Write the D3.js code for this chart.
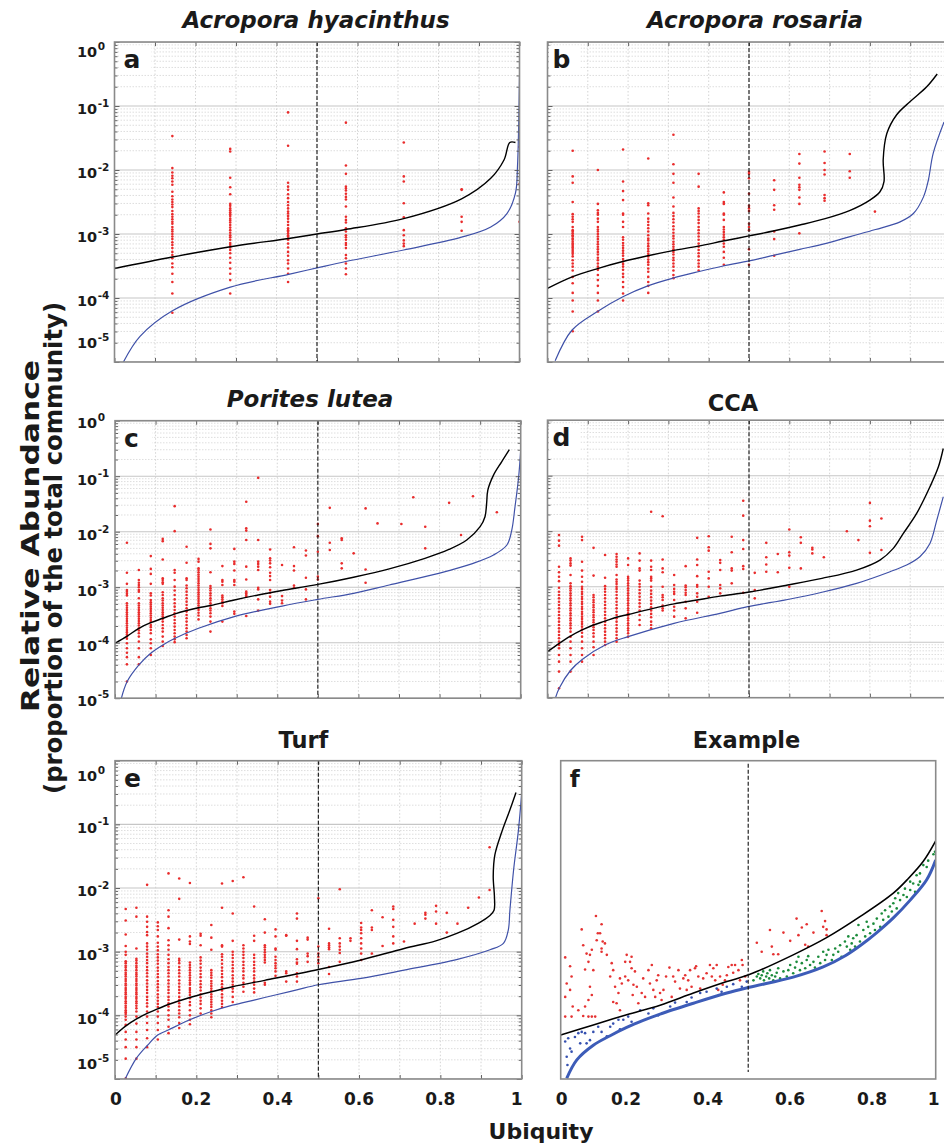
<!DOCTYPE html>
<html><head><meta charset="utf-8">
<script src="https://cdn.jsdelivr.net/npm/d3@7"></script>
<style>body{margin:0;background:#fff}svg{display:block}text{font-family:"DejaVu Sans",sans-serif;font-weight:bold;fill:#1a1a1a}</style>
</head><body><svg id="chart" width="944" height="1144"></svg>
<script>
// ---------- tick values ----------
const xTicks = [0,0.1,0.2,0.3,0.4,0.5,0.6,0.7,0.8,0.9,1];
const xLabelTicks = [0,0.2,0.4,0.6,0.8,1];
const decadeExps = [0,-1,-2,-3,-4,-5];

// ---------- panel a: Acropora hyacinthus (7 sites) ; dots = [occupied sites, log10 relative abundance] ----------
const aSites = 7;
const aDots = [
 [1,[-1.47,-1.97,-2.04,-2.09,-2.13,-2.18,-2.23,-2.34,-2.41,-2.46,-2.5,-2.54,-2.58,-2.64,-2.69,-2.73,-2.77,-2.81,-2.84,-2.89,-2.93,-2.96,-3,-3.04,-3.08,-3.13,-3.17,-3.22,-3.28,-3.33,-3.38,-3.46,-3.52,-3.62,-3.75,-3.93,-4.23]],
 [2,[-1.67,-1.71,-2.12,-2.27,-2.38,-2.53,-2.56,-2.6,-2.63,-2.66,-2.69,-2.72,-2.76,-2.79,-2.82,-2.86,-2.9,-2.94,-2.98,-3.02,-3.05,-3.09,-3.14,-3.17,-3.21,-3.25,-3.3,-3.37,-3.45,-3.54,-3.62,-3.72,-3.93]],
 [3,[-1.1,-1.62,-2.2,-2.26,-2.31,-2.38,-2.44,-2.5,-2.55,-2.6,-2.65,-2.68,-2.72,-2.76,-2.81,-2.86,-2.91,-2.94,-2.96,-2.99,-3.02,-3.04,-3.07,-3.09,-3.15,-3.21,-3.28,-3.34,-3.41,-3.46,-3.54,-3.62,-3.75]],
 [4,[-1.26,-1.93,-2.06,-2.26,-2.29,-2.32,-2.37,-2.42,-2.46,-2.57,-2.73,-2.78,-2.82,-2.91,-2.96,-3.02,-3.05,-3.09,-3.14,-3.17,-3.22,-3.33,-3.38,-3.46,-3.54,-3.63]],
 [5,[-1.57,-2.1,-2.18,-2.52,-2.74,-2.94,-3.02,-3.1,-3.15,-3.19]],
 [6,[-2.3,-2.31,-2.73,-2.81,-2.95]],
 [7,[-1.64,-2.22,-2.81]]
];
const aBlack = [[0,-3.54],[0.143,-3.36],[0.286,-3.2],[0.43,-3.07],[0.5,-3.0],[0.571,-2.93],[0.714,-2.76],[0.857,-2.45],[0.929,-2.13],[0.962,-1.84],[0.976,-1.57],[0.99,-1.57]];
const aBlue = [[0.022,-5],[0.063,-4.6],[0.143,-4.2],[0.286,-3.83],[0.43,-3.63],[0.5,-3.53],[0.571,-3.43],[0.714,-3.25],[0.857,-3.05],[0.929,-2.89],[0.969,-2.68],[0.99,-2.36],[0.995,-1.95],[1,-0.54]];

// ---------- panel b: Acropora rosaria (16 sites) ----------
const bSites = 16;
const bDots = [
 [1,[-1.7,-2.1,-2.2,-2.5,-2.69,-2.73,-2.77,-2.81,-2.89,-2.94,-2.96,-2.99,-3.02,-3.04,-3.07,-3.09,-3.12,-3.15,-3.17,-3.2,-3.22,-3.25,-3.28,-3.31,-3.35,-3.41,-3.46,-3.51,-3.57,-3.67,-3.77,-3.92,-4.04,-4.21,-4.52]],
 [2,[-2,-2.53,-2.63,-2.67,-2.7,-2.76,-2.81,-2.89,-2.93,-2.96,-3,-3.04,-3.08,-3.12,-3.16,-3.2,-3.24,-3.28,-3.32,-3.37,-3.41,-3.46,-3.51,-3.56,-3.64,-3.72,-3.81,-3.92,-4.04,-4.21]],
 [3,[-1.68,-2.18,-2.33,-2.47,-2.68,-2.7,-2.81,-2.89,-3.05,-3.09,-3.14,-3.18,-3.22,-3.26,-3.3,-3.34,-3.39,-3.43,-3.47,-3.51,-3.56,-3.62,-3.67,-3.75,-3.83,-3.93,-4.04]],
 [4,[-1.82,-2.52,-2.55,-2.68,-2.76,-2.81,-2.86,-2.91,-2.96,-3.02,-3.07,-3.1,-3.15,-3.19,-3.23,-3.27,-3.31,-3.35,-3.4,-3.44,-3.48,-3.54,-3.59,-3.67,-3.75,-3.81,-3.92]],
 [5,[-1.45,-1.91,-2.06,-2.2,-2.43,-2.57,-2.67,-2.72,-2.77,-2.82,-2.88,-2.93,-2.98,-3.03,-3.07,-3.12,-3.16,-3.2,-3.24,-3.28,-3.32,-3.37,-3.41,-3.46,-3.51,-3.57,-3.64,-3.69]],
 [6,[-2.06,-2.26,-2.6,-2.64,-2.68,-2.73,-2.78,-2.83,-2.89,-2.94,-2.99,-3.04,-3.09,-3.15,-3.2,-3.25,-3.3,-3.35,-3.41,-3.46,-3.51,-3.57]],
 [7,[-2.35,-2.5,-2.53,-2.68,-2.7,-2.78,-2.89,-2.93,-2.97,-3.01,-3.05,-3.09,-3.15,-3.2,-3.28,-3.37,-3.48]],
 [8,[-2.03,-2.06,-2.13,-2.37,-2.56,-2.6,-2.64,-2.84,-2.89,-2.94,-3.24,-3.48]],
 [9,[-2.16,-2.31,-2.55,-2.62,-2.96,-3.08,-3.34]],
 [10,[-1.75,-1.9,-2.12,-2.23,-2.27,-2.31,-2.43,-2.53,-2.99]],
 [11,[-1.71,-1.89,-2,-2.07,-2.39,-2.44,-2.48]],
 [12,[-1.75,-2.02,-2.12]],
 [13,[-2.65]]
];
const bBlack = [[0,-3.85],[0.061,-3.67],[0.124,-3.54],[0.187,-3.43],[0.249,-3.34],[0.311,-3.26],[0.374,-3.19],[0.436,-3.11],[0.5,-3.03],[0.563,-2.95],[0.626,-2.86],[0.689,-2.76],[0.751,-2.63],[0.8,-2.47],[0.825,-2.34],[0.835,-2.18],[0.833,-1.84],[0.842,-1.43],[0.866,-1.14],[0.9,-0.93],[0.941,-0.7],[0.967,-0.5]];
const bBlue = [[0.019,-4.98],[0.061,-4.5],[0.124,-4.21],[0.187,-3.98],[0.249,-3.81],[0.311,-3.69],[0.374,-3.59],[0.436,-3.5],[0.5,-3.42],[0.563,-3.33],[0.626,-3.24],[0.689,-3.15],[0.751,-3.04],[0.814,-2.93],[0.875,-2.81],[0.908,-2.68],[0.933,-2.42],[0.945,-2.16],[0.957,-1.74],[0.984,-1.25]];

// ---------- panel c: Porites lutea (34 sites) ----------
const cSites = 34;
const cDots = [
 [1,[-2.2,-2.74,-2.94,-3.05,-3.08,-3.12,-3.15,-3.29,-3.33,-3.37,-3.41,-3.45,-3.49,-3.53,-3.57,-3.61,-3.65,-3.69,-3.73,-3.77,-3.81,-3.85,-3.89,-3.93,-4.01,-4.1,-4.18,-4.26,-4.39,-4.7]],
 [2,[-2.69,-2.87,-2.92,-2.96,-3,-3.05,-3.08,-3.2,-3.29,-3.33,-3.37,-3.41,-3.45,-3.49,-3.53,-3.57,-3.61,-3.65,-3.69,-3.74,-3.78,-3.83,-3.89,-3.98,-4.1,-4.26,-4.39]],
 [3,[-2.44,-2.67,-2.76,-2.94,-3.11,-3.15,-3.23,-3.27,-3.31,-3.35,-3.39,-3.43,-3.47,-3.51,-3.55,-3.59,-3.63,-3.68,-3.72,-3.77,-3.83,-3.94,-4.01,-4.1,-4.22]],
 [4,[-2.13,-2.17,-2.5,-2.84,-2.87,-2.91,-2.94,-3.09,-3.14,-3.2,-3.24,-3.29,-3.33,-3.37,-3.41,-3.45,-3.49,-3.53,-3.57,-3.62,-3.68,-3.74,-3.8,-3.89,-3.98,-4.06]],
 [5,[-1.54,-1.99,-2.69,-2.74,-2.87,-2.99,-3.06,-3.14,-3.22,-3.29,-3.35,-3.41,-3.47,-3.53,-3.59,-3.65,-3.71,-3.77,-3.83,-3.89,-3.94,-3.99]],
 [6,[-2.27,-2.56,-2.84,-2.87,-2.97,-3.02,-3.08,-3.14,-3.2,-3.26,-3.32,-3.38,-3.44,-3.5,-3.56,-3.62,-3.68,-3.74,-3.8,-3.86,-3.92]],
 [7,[-2.49,-2.54,-2.66,-2.69,-2.73,-2.77,-2.81,-2.85,-2.89,-2.93,-2.97,-3.01,-3.05,-3.09,-3.13,-3.17,-3.21,-3.25,-3.29,-3.33,-3.37,-3.41,-3.46,-3.51,-3.58]],
 [8,[-1.96,-2.22,-2.3,-2.73,-2.98,-3.02,-3.06,-3.11,-3.15,-3.2,-3.24,-3.29,-3.33,-3.38,-3.42,-3.47,-3.53,-3.62,-3.8]],
 [9,[-2.62,-2.87,-2.9,-2.96,-3.15,-3.18,-3.22,-3.26,-3.29,-3.34,-3.62]],
 [10,[-2.31,-2.54,-2.58,-2.7,-2.87,-2.9,-2.96,-3.44,-3.48]],
 [11,[-1.46,-1.94,-1.98,-2.15,-2.63,-2.86,-3.08,-3.11,-3.14,-3.17,-3.52]],
 [12,[-1.03,-2.15,-2.54,-2.58,-2.63,-2.69,-3.01,-3.04,-3.22,-3.42]],
 [13,[-2.32,-2.48,-2.52,-2.57,-2.64,-2.74,-2.8,-2.87,-3.05,-3.1,-3.17,-3.26,-3.3]],
 [14,[-2.6,-3.16,-3.24,-3.29]],
 [15,[-2.28,-2.62,-2.7,-2.97,-3.01]],
 [16,[-2.34,-2.43,-2.83,-3.04,-3.22]],
 [17,[-1.86,-2.08,-2.36,-2.81,-2.86]],
 [18,[-1.57,-2.2,-2.33]],
 [19,[-2.12,-2.15,-2.57,-2.66]],
 [20,[-2.39]],
 [21,[-1.58,-2.68,-2.92]],
 [22,[-1.85]],
 [24,[-1.86]],
 [25,[-1.38]],
 [26,[-1.91,-2.3]],
 [28,[-1.48]],
 [29,[-2.06]],
 [30,[-1.36]],
 [32,[-1.65]]
];
const cBlack = [[0,-4.01],[0.03,-3.88],[0.059,-3.74],[0.088,-3.64],[0.118,-3.56],[0.148,-3.48],[0.177,-3.42],[0.206,-3.37],[0.236,-3.33],[0.294,-3.23],[0.353,-3.14],[0.412,-3.06],[0.5,-2.95],[0.588,-2.82],[0.676,-2.67],[0.764,-2.48],[0.823,-2.32],[0.867,-2.15],[0.9,-1.91],[0.912,-1.73],[0.916,-1.49],[0.919,-1.25],[0.933,-0.98],[0.953,-0.74],[0.972,-0.52]];
const cBlue = [[0.015,-5.02],[0.03,-4.7],[0.059,-4.4],[0.088,-4.19],[0.118,-4.04],[0.148,-3.92],[0.206,-3.74],[0.294,-3.53],[0.412,-3.34],[0.5,-3.22],[0.588,-3.11],[0.676,-2.96],[0.764,-2.81],[0.823,-2.7],[0.883,-2.57],[0.933,-2.42],[0.966,-2.24],[0.978,-1.97],[0.986,-1.55],[0.995,-1.01],[1,-0.53]];

// ---------- panel d: CCA (35 sites) ----------
const dSites = 35;
const dDots = [
 [1,[-2.07,-2.17,-2.26,-2.64,-2.74,-2.82,-2.9,-3.02,-3.09,-3.15,-3.21,-3.27,-3.33,-3.39,-3.45,-3.51,-3.57,-3.63,-3.69,-3.75,-3.81,-3.87,-3.93,-3.99,-4.05,-4.11,-4.23,-4.35,-4.53,-4.83]],
 [2,[-2.49,-2.53,-2.58,-2.62,-2.79,-2.94,-2.99,-3.03,-3.07,-3.12,-3.16,-3.21,-3.25,-3.3,-3.34,-3.39,-3.43,-3.48,-3.52,-3.57,-3.61,-3.66,-3.7,-3.75,-3.81,-3.9,-3.99,-4.11,-4.23,-4.35,-4.53]],
 [3,[-2.1,-2.16,-2.55,-2.71,-2.82,-2.91,-3,-3.04,-3.09,-3.13,-3.18,-3.22,-3.27,-3.31,-3.36,-3.4,-3.45,-3.49,-3.54,-3.58,-3.63,-3.67,-3.72,-3.77,-3.83,-3.9,-3.99,-4.11,-4.23,-4.35]],
 [4,[-2.3,-2.8,-3.15,-3.19,-3.24,-3.28,-3.33,-3.37,-3.42,-3.46,-3.51,-3.55,-3.6,-3.64,-3.69,-3.73,-3.78,-3.84,-3.9,-3.99,-4.09,-4.23]],
 [5,[-2.43,-2.84,-2.99,-3.04,-3.09,-3.15,-3.21,-3.27,-3.33,-3.39,-3.45,-3.51,-3.57,-3.63,-3.69,-3.75,-3.81,-3.87,-3.93,-3.99,-4.05]],
 [6,[-2.41,-2.46,-2.51,-2.55,-2.6,-2.64,-2.79,-2.87,-2.91,-2.95,-3,-3.04,-3.09,-3.15,-3.21,-3.27,-3.33,-3.39,-3.45,-3.51,-3.57,-3.63,-3.69,-3.75,-3.81,-3.87,-3.93,-3.99]],
 [7,[-2.49,-2.61,-2.82,-2.85,-2.89,-2.94,-2.98,-3.03,-3.07,-3.12,-3.16,-3.21,-3.25,-3.3,-3.34,-3.39,-3.43,-3.48,-3.52,-3.57,-3.61,-3.66,-3.7,-3.75,-3.79,-3.84,-3.9]],
 [8,[-2.4,-2.53,-2.67,-2.71,-2.89,-2.95,-3,-3.06,-3.12,-3.18,-3.24,-3.3,-3.36,-3.43,-3.51,-3.6,-3.69]],
 [9,[-1.65,-2.53,-2.64,-2.7,-2.82,-2.85,-2.89,-3,-3.07,-3.13,-3.19,-3.25,-3.31,-3.37,-3.43,-3.49,-3.55,-3.63,-3.69,-3.75]],
 [10,[-1.73,-2.51,-2.67,-2.74,-3,-3.15,-3.19,-3.24,-3.34,-3.39,-3.43]],
 [11,[-2.79,-2.97,-3.04,-3.09,-3.13,-3.24,-3.36,-3.43,-3.54]],
 [12,[-2.63,-2.98,-3.01,-3.06,-3.11,-3.15,-3.27,-3.39,-3.57]],
 [13,[-2.12,-2.51,-2.61,-2.81,-2.97,-3,-3.12,-3.18,-3.27,-3.47]],
 [14,[-2.09,-2.29,-2.35,-2.73,-2.85,-3,-3.18]],
 [15,[-2.52,-2.57,-2.7,-2.97,-3.03,-3.12]],
 [16,[-2.1,-2.38,-2.67,-2.71,-2.94]],
 [17,[-1.45,-1.72,-2.16,-2.32,-2.63,-2.68,-3.11]],
 [18,[-2.75,-3.06,-3.21]],
 [19,[-2.21,-2.47,-2.6,-2.73]],
 [20,[-2.41,-2.74]],
 [21,[-1.97,-2.38,-2.44,-2.66,-3]],
 [22,[-2.11,-2.21,-2.67]],
 [23,[-2.3,-2.33,-2.4]],
 [24,[-2.47]],
 [26,[-2]],
 [27,[-2.16]],
 [28,[-1.49,-1.81,-1.91,-2.39]],
 [29,[-1.77,-2.34]]
];
const dBlack = [[0,-4.17],[0.029,-4.02],[0.057,-3.89],[0.086,-3.78],[0.114,-3.69],[0.143,-3.62],[0.171,-3.55],[0.2,-3.5],[0.257,-3.4],[0.314,-3.31],[0.371,-3.24],[0.428,-3.17],[0.497,-3.1],[0.596,-2.97],[0.681,-2.85],[0.767,-2.7],[0.825,-2.52],[0.858,-2.31],[0.883,-2.04],[0.916,-1.68],[0.949,-1.2],[0.97,-0.84],[0.982,-0.51]];
const dBlue = [[0.019,-5.02],[0.029,-4.83],[0.057,-4.51],[0.086,-4.31],[0.143,-4.05],[0.2,-3.9],[0.314,-3.66],[0.428,-3.48],[0.497,-3.36],[0.596,-3.23],[0.681,-3.1],[0.767,-2.94],[0.85,-2.73],[0.891,-2.61],[0.924,-2.46],[0.949,-2.22],[0.966,-1.8],[0.982,-1.38]];

// ---------- panel e: Turf (38 sites) ----------
const eSites = 38;
const eDots = [
 [1,[-2.33,-2.51,-2.73,-2.91,-3,-3.05,-3.15,-3.18,-3.22,-3.25,-3.29,-3.33,-3.36,-3.39,-3.43,-3.46,-3.5,-3.53,-3.57,-3.6,-3.64,-3.67,-3.71,-3.74,-3.78,-3.81,-3.85,-3.88,-3.92,-3.95,-3.98,-4.02,-4.07,-4.15,-4.26,-4.38,-4.5,-4.68,-4.99]],
 [2,[-2.31,-2.45,-2.95,-3.11,-3.14,-3.18,-3.22,-3.25,-3.29,-3.33,-3.36,-3.39,-3.43,-3.46,-3.5,-3.53,-3.57,-3.6,-3.64,-3.67,-3.71,-3.74,-3.78,-3.81,-3.85,-3.89,-3.94,-4.02,-4.13,-4.26,-4.38,-4.5,-4.68]],
 [3,[-1.95,-2.45,-2.53,-2.61,-2.69,-2.74,-2.87,-2.92,-2.97,-3.03,-3.08,-3.13,-3.18,-3.24,-3.29,-3.34,-3.39,-3.45,-3.5,-3.55,-3.6,-3.65,-3.71,-3.76,-3.81,-3.86,-3.94,-4.02,-4.12,-4.23,-4.36,-4.5]],
 [4,[-2.54,-2.6,-2.66,-2.76,-2.86,-2.92,-2.98,-3.04,-3.09,-3.14,-3.19,-3.25,-3.3,-3.35,-3.4,-3.46,-3.51,-3.56,-3.61,-3.67,-3.72,-3.77,-3.82,-3.87,-3.94,-4.02,-4.12,-4.23,-4.38]],
 [5,[-1.77,-2.35,-2.45,-2.63,-2.82,-2.9,-2.97,-3.05,-3.12,-3.18,-3.24,-3.29,-3.34,-3.39,-3.45,-3.5,-3.55,-3.6,-3.65,-3.71,-3.76,-3.81,-3.86,-3.92,-4,-4.07,-4.18,-4.28]],
 [6,[-1.85,-2.17,-2.81,-3.11,-3.14,-3.18,-3.24,-3.29,-3.34,-3.39,-3.45,-3.5,-3.55,-3.6,-3.65,-3.71,-3.76,-3.81,-3.86,-3.92,-3.97,-4.03,-4.12,-4.2]],
 [7,[-1.92,-2.76,-2.84,-2.88,-3.17,-3.21,-3.25,-3.29,-3.33,-3.37,-3.41,-3.45,-3.49,-3.52,-3.57,-3.6,-3.64,-3.68,-3.73,-3.79,-3.84,-3.92,-4,-4.07,-4.14]],
 [8,[-2.72,-2.75,-2.9,-3.09,-3.14,-3.19,-3.25,-3.3,-3.35,-3.4,-3.46,-3.51,-3.56,-3.61,-3.67,-3.72,-3.77,-3.82,-3.89,-3.97]],
 [9,[-2.58,-2.78,-2.97,-3.29,-3.33,-3.37,-3.41,-3.46,-3.5,-3.54,-3.58,-3.62,-3.67,-3.71,-3.75,-3.79,-3.83,-3.87,-3.92,-3.97,-4.03]],
 [10,[-1.93,-2.31,-2.9,-2.92,-3.04,-3.08,-3.13,-3.19,-3.25,-3.3,-3.35,-3.4,-3.46,-3.51,-3.56,-3.61,-3.67,-3.72,-3.77,-3.82,-3.87]],
 [11,[-1.89,-2.4,-2.83,-3,-3.05,-3.1,-3.16,-3.21,-3.26,-3.31,-3.37,-3.42,-3.47,-3.52,-3.58,-3.63,-3.71,-3.79]],
 [12,[-1.83,-2.9,-2.95,-3,-3.05,-3.1,-3.16,-3.21,-3.26,-3.31,-3.37,-3.42,-3.49,-3.55,-3.63]],
 [13,[-2.29,-2.75,-2.83,-3.05,-3.1,-3.16,-3.21,-3.26,-3.31,-3.37,-3.42,-3.47,-3.52,-3.58,-3.64]],
 [14,[-2.49,-2.7,-2.9,-2.93,-2.97,-3.01,-3.05,-3.09,-3.13,-3.17,-3.49,-3.52]],
 [15,[-2.65,-2.76,-2.95,-2.97,-3.08,-3.13,-3.18,-3.22,-3.26,-3.31,-3.38]],
 [16,[-2.74,-2.75,-3.31,-3.34,-3.47]],
 [17,[-2.4,-2.48,-2.83,-2.96,-3.12,-3.17,-3.19,-3.34,-3.39,-3.47]],
 [18,[-2.78,-2.81,-3.03,-3.07,-3.16]],
 [19,[-2.16,-2.92,-3.03,-3.08,-3.13,-3.18]],
 [20,[-2.64,-2.87,-2.9,-2.93,-2.96,-3.24,-3.35]],
 [21,[-2.02,-2.79,-2.87,-2.92,-2.97,-3.02,-3.16]],
 [22,[-2.79,-2.83]],
 [23,[-2.55,-2.62,-2.66,-2.71,-2.79,-2.87,-2.95,-3.03,-3.13]],
 [24,[-2.35,-2.62,-2.66,-3.03]],
 [25,[-2.46,-2.91]],
 [26,[-2.29,-2.33,-2.5,-2.61,-2.76,-2.87]],
 [27,[-2.84]],
 [28,[-2.56]],
 [29,[-2.39,-2.42,-2.48]],
 [30,[-2.28,-2.37,-2.56]],
 [31,[-2.39,-2.7]],
 [32,[-2.56]],
 [33,[-2.31]],
 [34,[-2.15]],
 [35,[-1.36,-2.03]]
];
const eBlack = [[0,-4.31],[0.026,-4.17],[0.052,-4.06],[0.079,-3.97],[0.105,-3.9],[0.131,-3.83],[0.184,-3.72],[0.237,-3.63],[0.289,-3.55],[0.368,-3.45],[0.5,-3.28],[0.605,-3.13],[0.711,-2.95],[0.789,-2.83],[0.842,-2.71],[0.894,-2.55],[0.922,-2.43],[0.932,-2.35],[0.933,-2.14],[0.93,-1.82],[0.934,-1.48],[0.951,-1.12],[0.97,-0.79],[0.986,-0.5]];
const eBlue = [[0.025,-5],[0.052,-4.68],[0.08,-4.47],[0.105,-4.31],[0.131,-4.23],[0.184,-4.07],[0.237,-3.94],[0.289,-3.84],[0.342,-3.76],[0.394,-3.68],[0.447,-3.6],[0.5,-3.52],[0.605,-3.42],[0.711,-3.29],[0.842,-3.12],[0.922,-2.97],[0.955,-2.87],[0.967,-2.66],[0.971,-2.35],[0.98,-1.72],[0.992,-1.09],[1,-0.51]];

// ---------- panel f: Example (schematic) ; points = [ubiquity, log10 relative abundance] ----------
const fRed = [[.012,-3.09],[.025,-3.23],[.029,-3.39],[.016,-3.5],[.012,-3.71],[.025,-3.6],[.032,-3.86],[.012,-4.02],[.029,-4.02],[.047,-3.92],[.056,-2.65],[.06,-2.9],[.065,-3.28],[.069,-3.03],[.074,-3.16],[.078,-3.05],[.083,-2.97],[.087,-3.29],[.078,-3.55],[.083,-3.68],[.074,-3.76],[.065,-3.86],[.06,-4.01],[.074,-4.02],[.083,-4.02],[.092,-4.02],[.094,-2.44],[.099,-2.71],[.096,-2.82],[.105,-2.71],[.109,-2.57],[.109,-2.95],[.109,-3],[.112,-2.84],[.118,-2.87],[.123,-3.05],[.132,-3.39],[.136,-3.18],[.14,-3.29],[.145,-3.55],[.14,-3.79],[.149,-3.81],[.158,-3.42],[.154,-3.65],[.158,-3.92],[.163,-3.5],[.172,-3.16],[.172,-3.39],[.176,-3.05],[.18,-3.45],[.185,-3.16],[.189,-3.08],[.189,-3.26],[.192,-3.68],[.194,-3.52],[.198,-3.31],[.203,-3.55],[.207,-3.81],[.216,-3.65],[.22,-3.42],[.225,-3.71],[.234,-3.29],[.238,-3.5],[.243,-3.21],[.247,-3.6],[.252,-3.71],[.256,-3.45],[.26,-3.37],[.265,-3.65],[.269,-3.76],[.274,-3.6],[.281,-3.39],[.29,-3.25],[.296,-3.71],[.3,-3.39],[.305,-3.47],[.314,-3.29],[.318,-3.58],[.327,-3.42],[.332,-3.37],[.336,-3.6],[.34,-3.45],[.345,-3.29],[.349,-3.55],[.358,-3.26],[.361,-3.23],[.367,-3.39],[.372,-3.58],[.38,-3.42],[.389,-3.34],[.398,-3.21],[.403,-3.39],[.407,-3.26],[.412,-3.45],[.416,-3.21],[.42,-3.6],[.425,-3.39],[.432,-3.52],[.438,-3.45],[.443,-3.37],[.447,-3.24],[.456,-3.21],[.46,-3.33],[.465,-3.21],[.474,-3.29],[.478,-3.45],[.483,-3.13],[.485,-3.21],[.492,-3.39],[.523,-2.86],[.536,-3],[.558,-2.66],[.563,-2.92],[.567,-3.04],[.58,-3.04],[.594,-2.7],[.612,-2.83],[.629,-2.48],[.634,-2.74],[.643,-2.62],[.652,-2.89],[.656,-2.57],[.66,-2.92],[.674,-2.7],[.696,-2.36],[.7,-2.61],[.705,-2.52],[.709,-2.65],[.709,-2.74]];
const fBlueDots = [[.012,-4.41],[.016,-4.65],[.02,-4.36],[.025,-4.52],[.029,-4.57],[.018,-4.78],[.038,-4.34],[.047,-4.28],[.052,-4.44],[.056,-4.26],[.065,-4.28],[.069,-4.44],[.078,-4.39],[.087,-4.26],[.1,-4.18],[.109,-4.26],[.123,-4.33],[.132,-4.18],[.14,-4.13],[.154,-4.07],[.158,-4.22],[.167,-4.07],[.18,-4.02],[.189,-4.1],[.212,-3.92],[.234,-3.97],[.247,-3.89],[.26,-4.0],[.292,-3.86],[.305,-3.8],[.336,-3.79],[.349,-3.72],[.372,-3.65],[.389,-3.63],[.416,-3.58],[.429,-3.63],[.443,-3.55],[.46,-3.51],[.483,-3.55],[.496,-3.47]];
const fGreen = [[.514,-3.45],[.523,-3.39],[.527,-3.35],[.532,-3.42],[.536,-3.37],[.54,-3.31],[.542,-3.45],[.548,-3.39],[.551,-3.34],[.556,-3.42],[.558,-3.29],[.563,-3.37],[.567,-3.45],[.572,-3.39],[.576,-3.33],[.58,-3.26],[.585,-3.42],[.594,-3.31],[.603,-3.39],[.607,-3.29],[.612,-3.21],[.62,-3.34],[.625,-3.25],[.629,-3.16],[.634,-3.08],[.638,-3.29],[.643,-3.18],[.652,-3.26],[.656,-3.13],[.66,-3.07],[.665,-3.21],[.674,-3.16],[.678,-3.25],[.687,-3.08],[.692,-3.18],[.7,-3],[.705,-3.13],[.709,-3.05],[.714,-2.97],[.723,-3.13],[.727,-3.05],[.732,-2.95],[.74,-3],[.745,-2.9],[.749,-3.08],[.758,-2.84],[.763,-2.92],[.767,-2.76],[.772,-2.97],[.776,-2.87],[.78,-2.79],[.785,-2.92],[.789,-2.74],[.794,-2.58],[.798,-2.84],[.807,-2.66],[.812,-2.76],[.816,-2.53],[.82,-2.61],[.825,-2.71],[.834,-2.56],[.838,-2.66],[.843,-2.48],[.852,-2.61],[.856,-2.4],[.86,-2.5],[.865,-2.35],[.874,-2.45],[.878,-2.29],[.883,-2.37],[.887,-2.24],[.892,-2.16],[.896,-2.32],[.9,-2.08],[.905,-2.19],[.914,-2.11],[.918,-2.01],[.923,-2.14],[.932,-2.03],[.94,-1.93],[.945,-2.06],[.954,-1.95],[.958,-1.9],[.932,-1.9],[.949,-1.8],[.967,-1.64],[.98,-1.57],[.994,-1.47],[.958,-1.77],[.976,-1.67],[.998,-1.43]];
const fBlack = [[0,-4.31],[0.087,-4.15],[0.176,-3.99],[0.265,-3.84],[0.354,-3.65],[0.443,-3.47],[0.503,-3.36],[0.62,-3.05],[0.709,-2.78],[0.798,-2.45],[0.887,-2.08],[0.927,-1.85],[0.967,-1.58],[1,-1.26]];
const fBlueLine = [[0.016,-4.99],[0.043,-4.7],[0.087,-4.47],[0.132,-4.32],[0.176,-4.19],[0.22,-4.08],[0.265,-3.98],[0.354,-3.81],[0.443,-3.65],[0.503,-3.56],[0.62,-3.4],[0.7,-3.24],[0.76,-3.06],[0.8,-2.9],[0.843,-2.7],[0.887,-2.47],[0.932,-2.19],[0.976,-1.87],[1,-1.56]];

// ---------- layout ----------
const svg = d3.select('#chart');
svg.append('rect').attr('width',944).attr('height',1144).attr('fill','#fff');
const RED = '#e92c2c', BLUE = '#3f51a8';

const panels = [
 {key:'a', title:'Acropora hyacinthus', italic:true, tx:316, ty:28.3, x0:114.5, x1:519.5, y0:42, y1:362, sites:aSites, dots:aDots, black:aBlack, blue:aBlue, yLab:[7,-22], ldx:9},
 {key:'b', title:'Acropora rosaria', italic:true, tx:755, ty:28.3, x0:547.5, x1:950.5, y0:42, y1:362, sites:bSites, dots:bDots, black:bBlack, blue:bBlue, ldx:5},
 {key:'c', title:'Porites lutea', italic:true, tx:310, ty:406.7, x0:115, x1:520.7, y0:420.7, y1:698.2, sites:cSites, dots:cDots, black:cBlack, blue:cBlue, yLab:[-1,-1], ldx:9},
 {key:'d', title:'CCA', italic:false, tx:733, ty:410.5, x0:547.5, x1:950.5, y0:420.2, y1:697.7, sites:dSites, dots:dDots, black:dBlack, blue:dBlue, ldx:5},
 {key:'e', title:'Turf', italic:false, tx:303.5, ty:748.3, x0:115, x1:521.7, y0:760.7, y1:1079, sites:eSites, dots:eDots, black:eBlack, blue:eBlue, yLab:[12,-18], ldx:9, xLab:[1,-5]},
 {key:'f', title:'Example', italic:false, tx:746.5, ty:747.5, x0:560.7, x1:935.7, y0:760.7, y1:1079, example:true, ldx:9, xLab:[1,-2]}
];

panels.forEach(p => {
  const x = d3.scaleLinear().domain([0,1]).range([p.x0,p.x1]);
  const y = d3.scaleLog().domain([1e-5,1]).range([p.y1,p.y0]);
  const g = svg.append('g');
  const clipId = 'clip-' + p.key;
  svg.append('clipPath').attr('id', clipId).append('rect')
    .attr('x', p.x0).attr('y', p.y0).attr('width', p.x1-p.x0).attr('height', p.y1-p.y0);
  const inner = g.append('g').attr('clip-path', `url(#${clipId})`);
  const line = d3.line().x(d => x(d[0])).y(d => y(Math.pow(10, d[1]))).curve(d3.curveCatmullRom.alpha(0.5));

  if (!p.example) {
    const minor = y.ticks().filter(v => Math.abs(Math.log10(v) - Math.round(Math.log10(v))) > 1e-6);
    inner.selectAll('.hmin').data(minor).join('line')
      .attr('x1', p.x0).attr('x2', p.x1).attr('y1', d => y(d)).attr('y2', d => y(d))
      .attr('stroke', '#d6d6d6').attr('stroke-width', 0.8).attr('stroke-dasharray', '1.5,1.5');
    inner.selectAll('.hmaj').data(decadeExps).join('line')
      .attr('x1', p.x0).attr('x2', p.x1).attr('y1', d => y(Math.pow(10,d))).attr('y2', d => y(Math.pow(10,d)))
      .attr('stroke', '#c6c6c6').attr('stroke-width', 1.1);
    inner.selectAll('.vg').data(xTicks.slice(1,-1)).join('line')
      .attr('x1', d => x(d)).attr('x2', d => x(d)).attr('y1', p.y0).attr('y2', p.y1)
      .attr('stroke', '#cfcfcf').attr('stroke-width', 0.9).attr('stroke-dasharray', '1.5,2');
    const decVals = decadeExps.map(e => Math.pow(10, e));
    const tickGroups = [
      g.append('g').attr('transform', `translate(0,${p.y0})`).call(d3.axisBottom(x).tickValues(xTicks).tickSize(4).tickFormat('')),
      g.append('g').attr('transform', `translate(0,${p.y1})`).call(d3.axisTop(x).tickValues(xTicks).tickSize(4).tickFormat('')),
      g.append('g').attr('transform', `translate(${p.x0},0)`).call(d3.axisRight(y).tickValues(minor).tickSize(3).tickFormat('')),
      g.append('g').attr('transform', `translate(${p.x0},0)`).call(d3.axisRight(y).tickValues(decVals).tickSize(5).tickFormat('')),
      g.append('g').attr('transform', `translate(${p.x1},0)`).call(d3.axisLeft(y).tickValues(minor).tickSize(3).tickFormat('')),
      g.append('g').attr('transform', `translate(${p.x1},0)`).call(d3.axisLeft(y).tickValues(decVals).tickSize(5).tickFormat(''))
    ];
    tickGroups.forEach(tg => { tg.select('.domain').remove(); tg.selectAll('line').attr('stroke', '#555').attr('stroke-width', 0.9); });
    g.append('rect').attr('x', p.x0 + (p.ldx === 9 ? 5 : 1)).attr('y', p.y0 + 3.5)
      .attr('width', 32).attr('height', 27).attr('fill', '#fff');
  }
  g.append('text').attr('x', p.x0 + p.ldx).attr('y', p.y0 + 26).attr('font-size', p.example ? 23 : 25).text(p.key);

  // dashed line at ubiquity 0.5
  g.append('line').attr('x1', x(0.5)).attr('x2', x(0.5))
    .attr('y1', p.example ? p.y0 + 3 : p.y0).attr('y2', p.example ? p.y1 - 7 : p.y1)
    .attr('stroke', '#111').attr('stroke-width', 1.1).attr('stroke-dasharray', '4,2');

  if (!p.example) {
    const pts = [];
    p.dots.forEach(([k, vals]) => vals.forEach(v => pts.push([k / p.sites, v])));
    inner.selectAll('.dot').data(pts).join('circle')
      .attr('cx', d => x(d[0])).attr('cy', d => y(Math.pow(10, d[1]))).attr('r', 1.3).attr('fill', RED);
    inner.append('path').datum(p.blue).attr('d', line).attr('fill', 'none').attr('stroke', BLUE).attr('stroke-width', 1.2);
    inner.append('path').datum(p.black).attr('d', line).attr('fill', 'none').attr('stroke', '#000').attr('stroke-width', 1.4);
  } else {
    const series = [[fRed, '#e53232'], [fBlueDots, '#3550b0'], [fGreen, '#1b8b3b']];
    series.forEach(([data, col]) => {
      inner.append('g').selectAll('circle').data(data).join('circle')
        .attr('cx', d => x(d[0])).attr('cy', d => y(Math.pow(10, d[1]))).attr('r', 1.3).attr('fill', col);
    });
    inner.append('path').datum(fBlueLine).attr('d', line).attr('fill', 'none').attr('stroke', '#3d5cb8').attr('stroke-width', 3);
    inner.append('path').datum(fBlack).attr('d', line).attr('fill', 'none').attr('stroke', '#000').attr('stroke-width', 1.6);
  }

  // frame
  g.append('rect').attr('x', p.x0).attr('y', p.y0).attr('width', p.x1 - p.x0).attr('height', p.y1 - p.y0)
    .attr('fill', 'none').attr('stroke', '#8a8a8a').attr('stroke-width', 1.6);

  // title
  g.append('text').attr('x', p.tx).attr('y', p.ty).attr('text-anchor', 'middle')
    .attr('font-size', p.italic ? 23 : 22.5).attr('font-style', p.italic ? 'italic' : 'normal').text(p.title);

  // y tick labels (10 with superscript exponent)
  if (p.yLab) {
    decadeExps.forEach((e, i) => {
      let cy = y(Math.pow(10, e)) + 3;
      if (i === 0) cy += p.yLab[0];
      if (i === decadeExps.length - 1) cy += p.yLab[1];
      const t = g.append('text').attr('x', 77).attr('y', cy + 5.3).attr('font-size', 14.5);
      t.append('tspan').text('10');
      t.append('tspan').attr('font-size', 10.5).attr('dx', 0.5).attr('dy', -7.5).text(String(e));
    });
  }

  // x tick labels
  if (p.xLab) {
    const lx = p.example ? d3.scaleLinear().domain([0,1]).range([544, 954]) : x;
    const fmt = d3.format('~g');
    xLabelTicks.forEach(t => {
      const px = Math.max(p.x0 + p.xLab[0], Math.min(p.x1 + p.xLab[1], lx(t)));
      g.append('text').attr('x', px).attr('y', 1105).attr('text-anchor', 'middle').attr('font-size', 17).text(fmt(t));
    });
  }
});

// axis titles
svg.append('text').attr('x', 541).attr('y', 1139).attr('text-anchor', 'middle').attr('font-size', 22).text('Ubiquity');
svg.append('text').attr('transform', 'translate(39,536) rotate(-90)').attr('text-anchor', 'middle').attr('font-size', 24)
  .attr('textLength', 352).attr('lengthAdjust', 'spacingAndGlyphs').text('Relative Abundance');
svg.append('text').attr('transform', 'translate(62,548) rotate(-90)').attr('text-anchor', 'middle').attr('font-size', 24)
  .attr('textLength', 492).attr('lengthAdjust', 'spacingAndGlyphs').text('(proportion of the total community)');
</script></body></html>
